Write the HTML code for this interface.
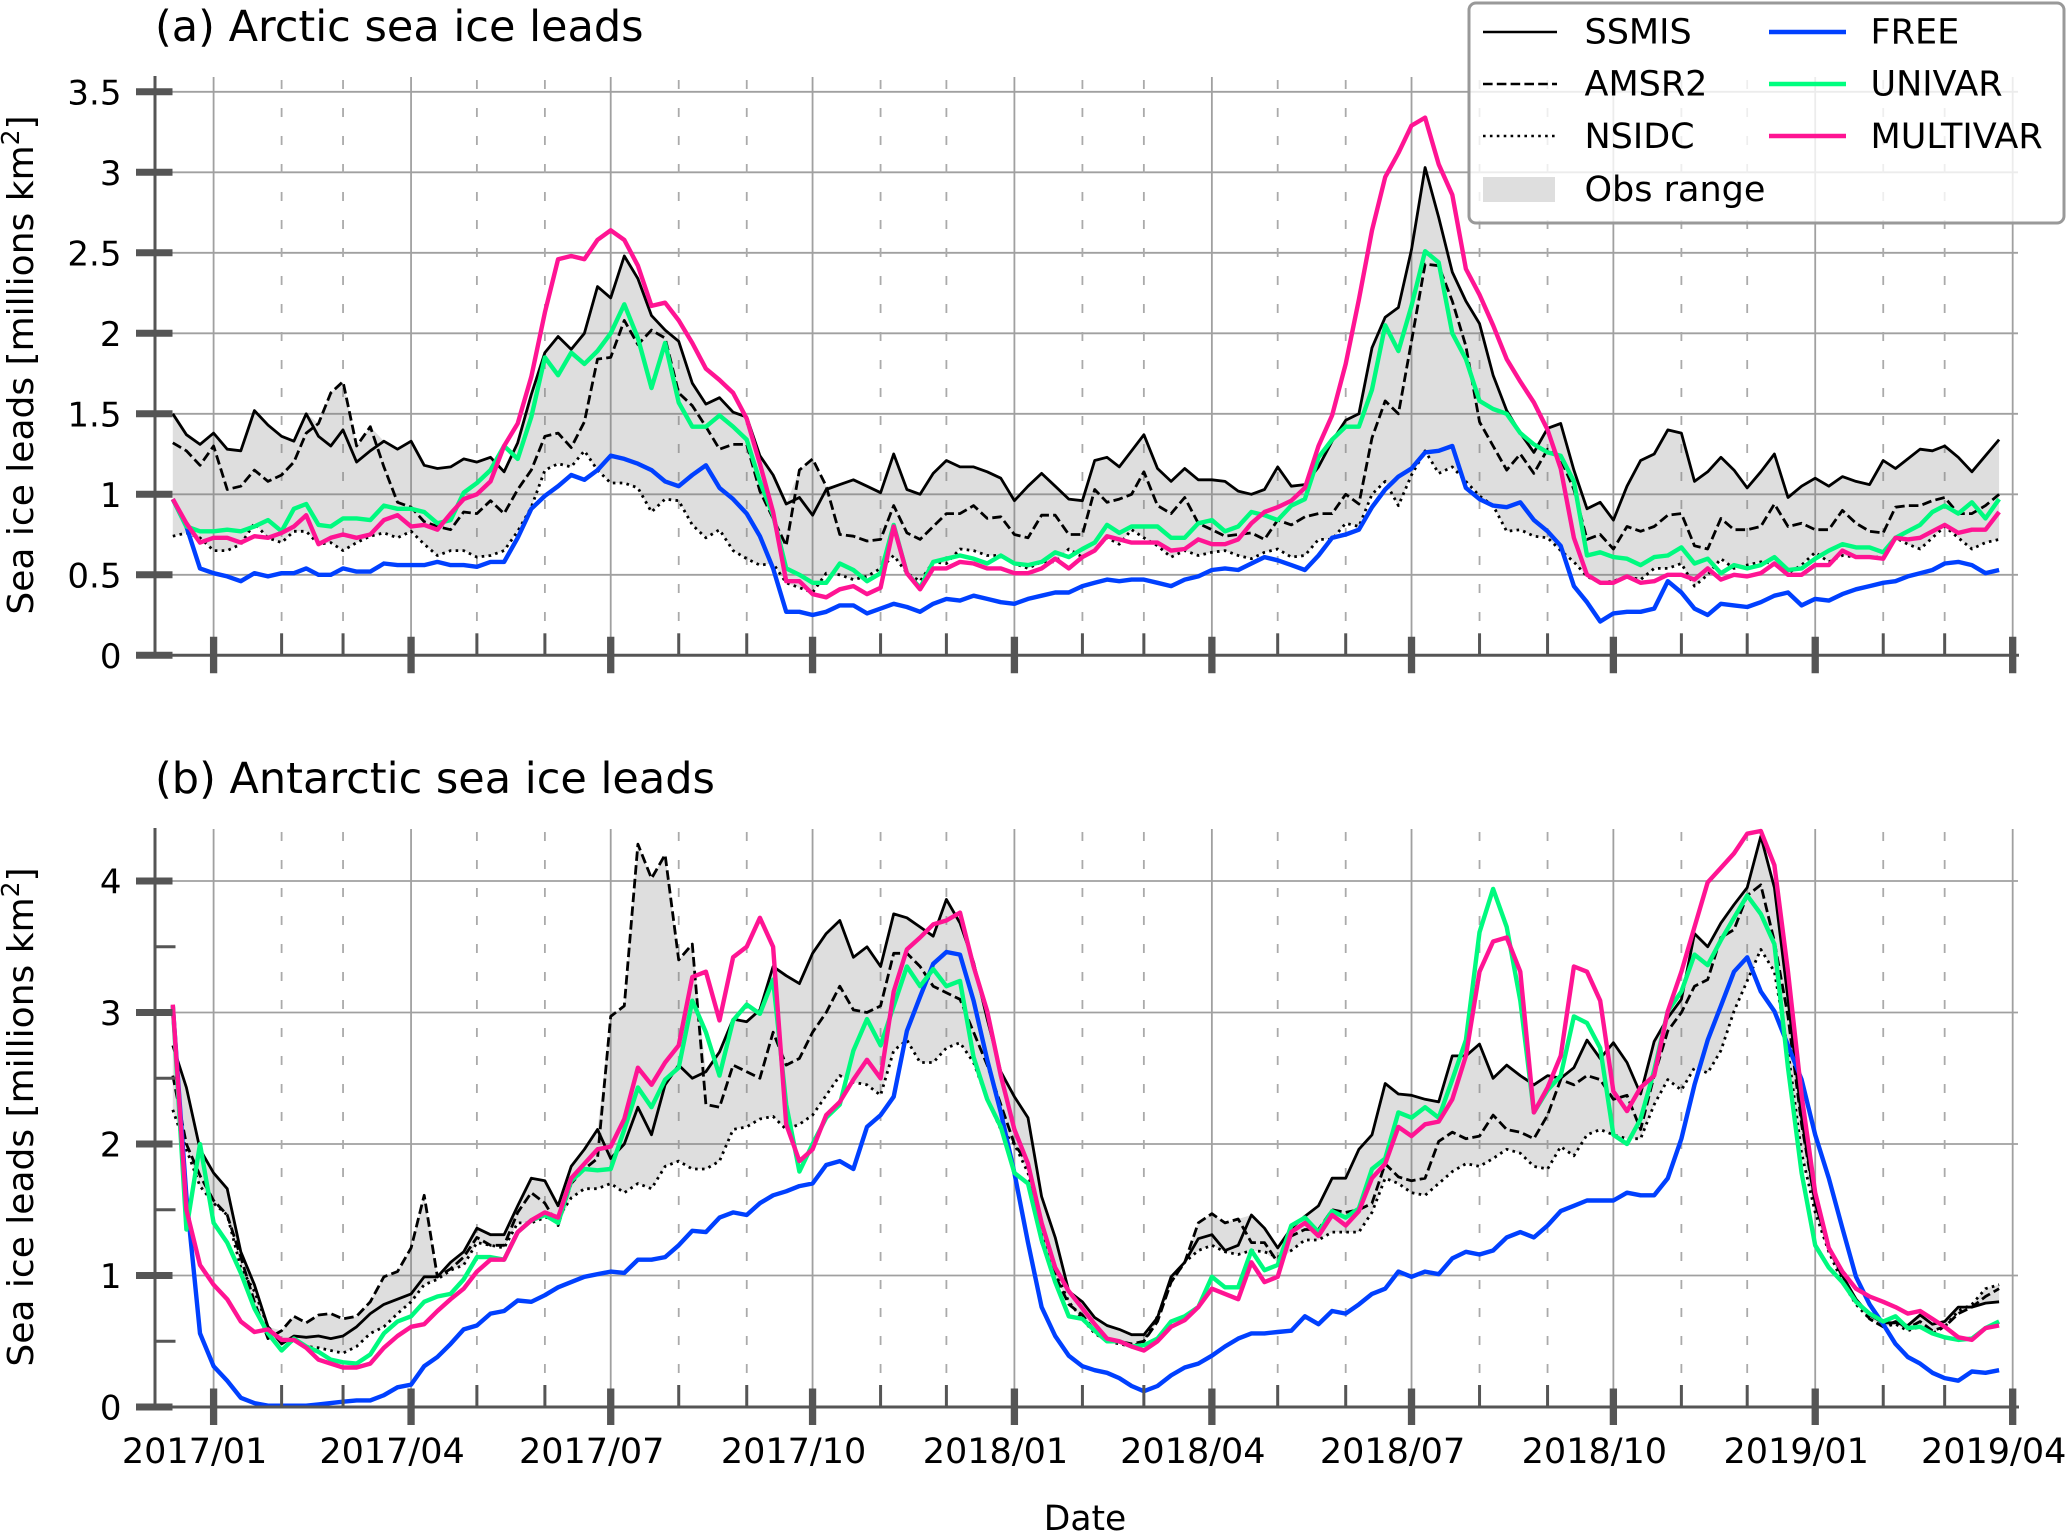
<!DOCTYPE html>
<html lang="en">
<head>
<meta charset="utf-8">
<title>Sea ice leads</title>
<style>
html,body{margin:0;padding:0;background:#fff;}
svg{display:block;font-family:"DejaVu Sans","Liberation Sans",sans-serif;fill:#000;}
</style>
</head>
<body>
<svg id="chart" xmlns="http://www.w3.org/2000/svg" width="2067" height="1532" viewBox="0 0 2067 1532">
  <rect x="0" y="0" width="2067" height="1532" fill="#fff"/>
  <g id="panel-a"></g>
  <g id="panel-b"></g>

  <text x="155" y="41" font-size="43">(a) Arctic sea ice leads</text>
  <text x="155" y="793" font-size="43">(b) Antarctic sea ice leads</text>

  <text transform="translate(33,365) rotate(-90)" text-anchor="middle" font-size="36">Sea ice leads [millions km<tspan dy="-14" font-size="25">2</tspan><tspan dy="14">]</tspan></text>
  <text transform="translate(33,1117) rotate(-90)" text-anchor="middle" font-size="36">Sea ice leads [millions km<tspan dy="-14" font-size="25">2</tspan><tspan dy="14">]</tspan></text>
  <text x="1085" y="1530" text-anchor="middle" font-size="34.5">Date</text>

  <g>
    <rect x="1469" y="3" width="595" height="220" rx="7" ry="7" fill="#fff" fill-opacity="0.8" stroke="#999" stroke-width="3"/>
    <line x1="1483" y1="32" x2="1557" y2="32" stroke="#000" stroke-width="2.6"/>
    <text x="1584.5" y="43.5" font-size="35">SSMIS</text>
    <line x1="1483" y1="84" x2="1557" y2="84" stroke="#000" stroke-width="2.6" stroke-dasharray="9.6 4.2"/>
    <text x="1584.5" y="95.5" font-size="35">AMSR2</text>
    <line x1="1483" y1="136" x2="1557" y2="136" stroke="#000" stroke-width="2.6" stroke-dasharray="2.6 4.3"/>
    <text x="1584.5" y="148" font-size="35">NSIDC</text>
    <rect x="1483" y="177" width="72" height="25" fill="#dedede"/>
    <text x="1584.5" y="201" font-size="35">Obs range</text>
    <line x1="1769" y1="32" x2="1846" y2="32" stroke="#0040ff" stroke-width="4.4"/>
    <text x="1870.5" y="43.5" font-size="35">FREE</text>
    <line x1="1769" y1="84" x2="1846" y2="84" stroke="#00ff7f" stroke-width="4.4"/>
    <text x="1870.5" y="95.5" font-size="35">UNIVAR</text>
    <line x1="1769" y1="136" x2="1846" y2="136" stroke="#ff1493" stroke-width="4.4"/>
    <text x="1870.5" y="148" font-size="35">MULTIVAR</text>
  </g>
</svg>

<script>
// ---- shared axis data: months counted from 2017/01 ----
const sampleMonths = Array.from({length: 138}, (_, i) => -0.6 + 0.2 * i);
const majorTickMonths = [0, 3, 6, 9, 12, 15, 18, 21, 24, 27];
const minorTickMonths = [1, 2, 4, 5, 7, 8, 10, 11, 13, 14, 16, 17, 19, 20, 22, 23, 25, 26];
const xTickLabels = ["2017/01", "2017/04", "2017/07", "2017/10", "2018/01", "2018/04", "2018/07", "2018/10", "2019/01", "2019/04"];
const arcticYTicks = [0, 0.5, 1, 1.5, 2, 2.5, 3, 3.5];
const arcticYLabels = ["0", "0.5", "1", "1.5", "2", "2.5", "3", "3.5"];
const antarcticYTicks = [0, 1, 2, 3, 4];
const antarcticYLabels = ["0", "1", "2", "3", "4"];
const antarcticYMinorTicks = [0.5, 1.5, 2.5, 3.5];

// ---- (a) Arctic series: 3 values for Dec 2016, then 5 per month ----
const arcticSsmis = [1.50,1.37,1.31,
1.38,1.28,1.27,1.52,1.43, 1.36,1.33,1.50,1.36,1.30, 1.40,1.20,1.27,1.33,1.28, 1.33,1.18,1.16,1.17,1.22,
1.20,1.23,1.14,1.32,1.62, 1.88,1.98,1.90,2.00,2.29, 2.22,2.48,2.34,2.11,2.02, 1.95,1.69,1.56,1.60,1.51,
1.48,1.24,1.12,.94,.98, .87,1.03,1.06,1.09,1.05, 1.01,1.25,1.03,1.00,1.13, 1.21,1.17,1.17,1.14,1.10,
.96,1.05,1.13,1.05,.97, .96,1.21,1.23,1.17,1.27, 1.37,1.16,1.08,1.16,1.09, 1.09,1.08,1.02,1.00,1.03,
1.17,1.05,1.06,1.17,1.33, 1.46,1.50,1.91,2.10,2.16, 2.52,3.03,2.72,2.38,2.20, 2.06,1.74,1.52,1.38,1.26,
1.41,1.44,1.15,.91,.95, .84,1.05,1.21,1.25,1.40, 1.38,1.08,1.14,1.23,1.15, 1.04,1.14,1.25,.98,1.05,
1.10,1.05,1.11,1.08,1.06, 1.21,1.16,1.22,1.28,1.27, 1.30,1.23,1.14,1.24,1.34];
const arcticAmsr2 = [1.32,1.27,1.18,
1.30,1.03,1.05,1.15,1.08, 1.12,1.20,1.38,1.44,1.63, 1.70,1.30,1.42,1.17,.95, .92,.83,.80,.78,.89,
.88,.96,.88,1.03,1.15, 1.36,1.38,1.29,1.45,1.84, 1.85,2.08,1.93,2.02,1.97, 1.63,1.55,1.42,1.28,1.31,
1.31,1.02,.85,.68,1.15, 1.22,1.05,.75,.74,.71, .72,.93,.76,.72,.80, .88,.88,.93,.85,.86,
.75,.73,.87,.87,.75, .75,1.03,.95,.97,1.00, 1.14,.93,.88,.98,.82, .78,.74,.75,.76,.72,
.84,.81,.86,.88,.88, 1.00,.94,1.35,1.58,1.50, 1.95,2.43,2.42,2.20,1.92, 1.45,1.30,1.15,1.25,1.13,
1.28,1.22,1.03,.72,.75, .66,.80,.77,.80,.87, .88,.68,.66,.85,.78, .78,.80,.94,.80,.82,
.78,.78,.90,.82,.77, .76,.92,.93,.93,.96, .98,.88,.88,.93,1.00];
const arcticNsidc = [.74,.76,.73,
.65,.65,.69,.82,.73, .70,.77,.77,.69,.70, .65,.70,.74,.76,.73, .77,.69,.62,.65,.65,
.61,.62,.65,.77,.92, 1.15,1.19,1.17,1.27,1.15, 1.07,1.07,1.04,.89,.97, .96,.81,.73,.78,.65,
.60,.56,.57,.45,.42, .39,.51,.50,.47,.49, .54,.62,.51,.46,.58, .57,.66,.65,.62,.62,
.57,.54,.58,.58,.66, .61,.65,.73,.69,.78, .73,.68,.61,.65,.62, .64,.65,.62,.60,.64,
.66,.61,.62,.72,.72, .82,.80,1.00,1.08,.93, 1.12,1.27,1.13,1.17,1.08, .99,.93,.77,.78,.74,
.73,.65,.58,.49,.45, .46,.49,.47,.54,.54, .57,.43,.50,.60,.54, .56,.58,.57,.51,.56,
.64,.58,.62,.61,.61, .61,.73,.69,.66,.73, .80,.73,.66,.70,.72];
const arcticFree = [.97,.80,.54,
.51,.49,.46,.51,.49, .51,.51,.54,.50,.50, .54,.52,.52,.57,.56, .56,.56,.58,.56,.56,
.55,.58,.58,.73,.91, .99,1.05,1.12,1.09,1.15, 1.24,1.22,1.19,1.15,1.08, 1.05,1.12,1.18,1.04,.97,
.88,.74,.54,.27,.27, .25,.27,.31,.31,.26, .29,.32,.30,.27,.32, .35,.34,.37,.35,.33,
.32,.35,.37,.39,.39, .43,.45,.47,.46,.47, .47,.45,.43,.47,.49, .53,.54,.53,.57,.61,
.59,.56,.53,.62,.73, .75,.78,.92,1.03,1.11, 1.16,1.26,1.27,1.30,1.04, .97,.93,.92,.95,.84,
.77,.68,.43,.33,.21, .26,.27,.27,.29,.46, .39,.29,.25,.32,.31, .30,.33,.37,.39,.31,
.35,.34,.38,.41,.43, .45,.46,.49,.51,.53, .57,.58,.56,.51,.53];
const arcticUnivar = [.97,.80,.77,
.77,.78,.77,.80,.84, .77,.91,.94,.81,.80, .85,.85,.84,.93,.91, .91,.89,.82,.84,1.01,
1.07,1.15,1.30,1.22,1.48, 1.85,1.74,1.88,1.81,1.89, 2.00,2.18,1.97,1.66,1.94, 1.57,1.42,1.42,1.49,1.42,
1.34,1.08,.87,.54,.50, .45,.45,.57,.53,.46, .51,.81,.51,.42,.58, .60,.62,.60,.57,.62,
.57,.56,.58,.64,.61, .66,.70,.81,.76,.80, .80,.80,.73,.73,.82, .84,.77,.80,.89,.87,
.84,.93,.97,1.23,1.34, 1.42,1.42,1.65,2.05,1.89, 2.17,2.51,2.44,2.00,1.84, 1.58,1.53,1.50,1.38,1.31,
1.26,1.24,1.08,.62,.64, .61,.60,.56,.61,.62, .67,.57,.60,.51,.56, .54,.56,.61,.53,.54,
.60,.65,.69,.67,.67, .64,.73,.77,.81,.89, .93,.88,.95,.85,.97];
const arcticMultivar = [.97,.82,.70,
.73,.73,.70,.74,.73, .76,.80,.87,.69,.73, .75,.73,.75,.84,.87, .80,.81,.78,.88,.97,
1.00,1.08,1.30,1.44,1.73, 2.13,2.46,2.48,2.46,2.58, 2.64,2.58,2.42,2.17,2.19, 2.08,1.94,1.78,1.71,1.63,
1.47,1.19,.89,.46,.46, .38,.36,.41,.43,.38, .42,.80,.51,.41,.54, .54,.58,.57,.54,.54,
.51,.51,.54,.60,.54, .61,.65,.74,.72,.70, .70,.70,.65,.66,.72, .69,.69,.72,.82,.89,
.92,.96,1.04,1.30,1.49, 1.81,2.21,2.64,2.97,3.12, 3.29,3.34,3.05,2.86,2.40, 2.24,2.05,1.84,1.70,1.57,
1.40,1.16,.73,.50,.45, .45,.49,.45,.46,.50, .50,.47,.54,.47,.50, .49,.51,.57,.50,.50,
.56,.56,.65,.61,.61, .60,.73,.72,.73,.77, .81,.76,.78,.78,.89];

// ---- (b) Antarctic series ----
const antarcticSsmis = [2.75,2.43,1.96,
1.78,1.66,1.18,.93,.61, .48,.54,.53,.54,.52, .54,.61,.71,.78,.82, .86,.99,.99,1.10,1.18,
1.36,1.31,1.31,1.53,1.74, 1.72,1.53,1.83,1.96,2.11, 1.89,2.00,2.28,2.07,2.45, 2.60,2.50,2.55,2.70,2.95,
2.93,3.02,3.35,3.28,3.22, 3.45,3.60,3.70,3.42,3.50, 3.35,3.75,3.72,3.65,3.58, 3.86,3.68,3.38,2.95,2.55,
2.36,2.20,1.60,1.29,.88, .80,.68,.62,.59,.55, .55,.68,.99,1.10,1.28, 1.31,1.19,1.23,1.46,1.36,
1.21,1.36,1.45,1.53,1.74, 1.74,1.96,2.07,2.46,2.38, 2.37,2.34,2.32,2.67,2.67, 2.76,2.50,2.60,2.52,2.45,
2.52,2.50,2.58,2.79,2.65, 2.77,2.62,2.38,2.78,2.96, 3.10,3.60,3.50,3.68,3.82, 3.95,4.34,3.95,3.10,2.20,
1.55,1.22,1.00,.82,.70, .64,.64,.62,.70,.63, .65,.76,.76,.79,.80];
const antarcticAmsr2 = [2.52,2.00,1.76,
1.57,1.46,1.14,.80,.52, .58,.69,.64,.70,.71, .67,.69,.80,.99,1.03, 1.21,1.61,.99,1.05,1.14,
1.29,1.23,1.23,1.48,1.63, 1.55,1.38,1.70,1.81,1.89, 2.97,3.05,4.28,4.02,4.20, 3.40,3.52,2.30,2.28,2.60,
2.55,2.50,2.85,2.60,2.65, 2.85,3.00,3.20,3.02,3.00, 3.05,3.45,3.45,3.35,3.20, 3.15,3.10,2.85,2.60,2.30,
2.00,1.85,1.25,1.00,.78, .70,.58,.52,.50,.48, .50,.65,.95,1.10,1.40, 1.47,1.40,1.43,1.25,1.25,
1.10,1.30,1.35,1.35,1.50, 1.48,1.50,1.55,1.85,1.75, 1.72,1.74,2.02,2.09,2.04, 2.06,2.22,2.11,2.09,2.04,
2.22,2.49,2.45,2.52,2.49, 2.34,2.37,2.11,2.52,2.86, 3.00,3.20,3.25,3.57,3.63, 3.89,3.97,3.54,2.97,2.15,
1.55,1.21,.99,.82,.67, .61,.65,.60,.65,.58, .61,.71,.76,.84,.90];
const antarcticNsidc = [2.26,1.96,1.68,
1.55,1.46,1.06,.88,.61, .50,.50,.46,.45,.43, .41,.46,.56,.61,.71, .80,.93,.97,1.04,1.08,
1.25,1.23,1.21,1.40,1.40, 1.44,1.44,1.59,1.66,1.66, 1.70,1.63,1.70,1.66,1.83, 1.87,1.81,1.81,1.87,2.11,
2.13,2.19,2.21,2.11,2.15, 2.22,2.37,2.52,2.47,2.45, 2.37,2.71,2.79,2.62,2.62, 2.73,2.77,2.62,2.34,2.11,
2.00,1.78,1.33,1.03,.80, .67,.56,.50,.48,.46, .50,.69,.95,1.10,1.19, 1.23,1.18,1.16,1.19,1.18,
1.14,1.19,1.27,1.27,1.33, 1.33,1.33,1.48,1.74,1.70, 1.63,1.61,1.70,1.79,1.85, 1.83,1.89,1.96,1.93,1.83,
1.81,1.98,1.91,2.07,2.11, 2.07,2.04,2.04,2.30,2.49, 2.41,2.58,2.54,2.71,3.01, 3.24,3.48,3.31,2.71,1.93,
1.48,1.18,.95,.78,.67, .61,.63,.58,.61,.56, .61,.73,.78,.90,.93];
const antarcticFree = [3.05,1.60,.56,
.31,.20,.07,.03,.01, .01,.01,.01,.02,.03, .04,.05,.05,.09,.15, .17,.31,.38,.48,.59,
.62,.71,.73,.81,.80, .85,.91,.95,.99,1.01, 1.03,1.02,1.12,1.12,1.14, 1.23,1.34,1.33,1.44,1.48,
1.46,1.55,1.61,1.64,1.68, 1.70,1.84,1.87,1.81,2.13, 2.22,2.36,2.86,3.12,3.37, 3.46,3.44,3.09,2.64,2.24,
1.78,1.25,.76,.54,.39, .31,.28,.26,.22,.16, .12,.16,.24,.30,.33, .39,.46,.52,.56,.56,
.57,.58,.69,.63,.73, .71,.78,.86,.90,1.03, .99,1.03,1.01,1.13,1.18, 1.16,1.19,1.29,1.33,1.29,
1.38,1.49,1.53,1.57,1.57, 1.57,1.63,1.61,1.61,1.74, 2.04,2.45,2.79,3.05,3.31, 3.42,3.16,3.01,2.75,2.49,
2.07,1.74,1.36,.99,.78, .63,.48,.38,.33,.26, .22,.20,.27,.26,.28];
const antarcticUnivar = [3.05,1.35,2.00,
1.40,1.25,1.02,.75,.56, .43,.52,.46,.42,.36, .34,.33,.40,.56,.65, .69,.80,.84,.86,.97,
1.14,1.14,1.12,1.33,1.42, 1.46,1.40,1.72,1.81,1.80, 1.81,2.11,2.43,2.28,2.49, 2.58,3.09,2.85,2.52,2.94,
3.06,2.99,3.25,2.30,1.79, 2.00,2.20,2.30,2.71,2.95, 2.75,3.05,3.35,3.20,3.33, 3.20,3.24,2.66,2.34,2.13,
1.78,1.70,1.27,.95,.69, .67,.58,.50,.50,.46, .47,.52,.65,.69,.76, .99,.91,.91,1.19,1.04,
1.08,1.38,1.44,1.33,1.49, 1.44,1.51,1.81,1.89,2.24, 2.20,2.28,2.20,2.49,2.79, 3.61,3.94,3.65,3.09,2.24,
2.41,2.52,2.97,2.92,2.73, 2.07,2.00,2.19,2.56,3.01, 3.16,3.44,3.36,3.55,3.72, 3.89,3.75,3.52,2.58,1.78,
1.23,1.06,.95,.80,.71, .65,.69,.60,.61,.56, .53,.51,.52,.60,.65];
const antarcticMultivar = [3.06,1.50,1.08,
.93,.82,.65,.57,.59, .51,.51,.45,.36,.33, .30,.30,.33,.45,.54, .61,.63,.73,.82,.90,
1.03,1.12,1.12,1.33,1.42, 1.48,1.44,1.74,1.85,1.96, 1.98,2.19,2.58,2.45,2.62, 2.75,3.27,3.31,2.94,3.42,
3.50,3.72,3.50,2.15,1.87, 1.96,2.22,2.32,2.49,2.64, 2.50,3.16,3.48,3.57,3.67, 3.70,3.76,3.35,3.01,2.52,
2.11,1.85,1.40,1.06,.88, .75,.63,.52,.50,.46, .43,.50,.61,.66,.76, .90,.86,.82,1.10,.95,
.99,1.33,1.40,1.30,1.46, 1.38,1.49,1.74,1.85,2.13, 2.06,2.15,2.17,2.34,2.67, 3.31,3.54,3.57,3.31,2.24,
2.43,2.67,3.35,3.31,3.09, 2.40,2.25,2.43,2.52,3.01, 3.31,3.65,3.99,4.10,4.21, 4.36,4.38,4.12,3.31,2.37,
1.63,1.21,1.03,.90,.84, .80,.76,.71,.73,.67, .61,.53,.51,.60,.62];

// ---- axis functions ----
const SVG_NS = "http://www.w3.org/2000/svg";
const INK = "#555";
function monthToDay(m) {
  const whole = Math.floor(m);
  const start = Date.UTC(2017, whole, 1);
  const next = Date.UTC(2017, whole + 1, 1);
  const d0 = Date.UTC(2017, 0, 1);
  return (start + (m - whole) * (next - start) - d0) / 86400000;
}
function xScale(m) { return 213.6 + 2.194 * monthToDay(m); }
function makeYScale(zero, unit) { return v => zero - unit * v; }
function make(tag, attrs, parent, text) {
  const el = document.createElementNS(SVG_NS, tag);
  Object.keys(attrs).forEach(k => el.setAttribute(k, attrs[k]));
  if (text !== undefined) el.textContent = text;
  parent.appendChild(el);
  return el;
}
function pathFrom(months, values, yScale) {
  return values.map((v, i) => (i ? "L" : "M") + xScale(months[i]).toFixed(1) + " " + yScale(v).toFixed(1)).join("");
}

function drawPanel(prefix, group, opt) {
  const y = opt.y;
  const zero = y(0);
  const right = 2018;

  // gridlines
  opt.yTicks.forEach(v => {
    const el = make("line", {x1: 172, x2: right, y1: y(v), y2: y(v), stroke: "#a0a0a0", "stroke-width": 1.8}, group);
    
    
  });
  majorTickMonths.forEach(m => {
    const el = make("line", {x1: xScale(m), x2: xScale(m), y1: opt.top, y2: zero, stroke: "#a0a0a0", "stroke-width": 1.8}, group);
    
    
  });
  minorTickMonths.forEach(m => {
    const el = make("line", {x1: xScale(m), x2: xScale(m), y1: opt.top + 3, y2: zero, stroke: "#aaa", "stroke-width": 1.8, "stroke-dasharray": "9 19"}, group);
    
    
  });

  // observation range
  const obs = [opt.ssmis, opt.amsr2, opt.nsidc];
  const upper = sampleMonths.map((_, i) => Math.max(...obs.map(s => s[i])));
  const lower = sampleMonths.map((_, i) => Math.min(...obs.map(s => s[i])));
  const upperPath = pathFrom(sampleMonths, upper, y);
  const lowerPts = lower.map((v, i) => "L" + xScale(sampleMonths[i]).toFixed(1) + " " + y(v).toFixed(1)).reverse().join("");
  const band = make("path", {d: upperPath + lowerPts + "Z", fill: "#808080", "fill-opacity": 0.26, stroke: "none"}, group);
  
  

  // series
  const styles = [
    ["ssmis", opt.ssmis, "#000", 2.8, "none"],
    ["amsr2", opt.amsr2, "#000", 2.8, "9.6 4.2"],
    ["nsidc", opt.nsidc, "#000", 2.8, "2.6 4.3"],
    ["free", opt.free, "#0040ff", 4.4, "none"],
    ["univar", opt.univar, "#00fa7f", 4.4, "none"],
    ["multivar", opt.multivar, "#ff1493", 4.4, "none"]
  ];
  styles.forEach(s => {
    const el = make("path", {d: pathFrom(sampleMonths, s[1], y), fill: "none", stroke: s[2], "stroke-width": s[3], "stroke-dasharray": s[4], "stroke-linejoin": "round"}, group);
    
    
  });

  // spines
  const spineY = make("line", {x1: 155, x2: 155, y1: opt.top - 1, y2: zero, stroke: INK, "stroke-width": 3}, group);
  
  
  const spineX = make("line", {x1: 155, x2: 2019, y1: zero, y2: zero, stroke: INK, "stroke-width": 3}, group);
  
  

  // y ticks and labels
  opt.yTicks.forEach((v, i) => {
    const tick = make("line", {x1: 136, x2: 172.5, y1: y(v), y2: y(v), stroke: INK, "stroke-width": 7}, group);
    
    
    const label = make("text", {x: 121.5, y: y(v) + 12.5, "text-anchor": "end", "font-size": 34}, group, opt.yLabels[i]);
    
    
  });
  opt.yMinor.forEach(v => {
    const tick = make("line", {x1: 155, x2: 175.5, y1: y(v), y2: y(v), stroke: INK, "stroke-width": 3}, group);
    
    
  });

  // x ticks and labels
  majorTickMonths.forEach((m, i) => {
    const tick = make("line", {x1: xScale(m), x2: xScale(m), y1: zero - 18.5, y2: zero + 18, stroke: INK, "stroke-width": 7.3}, group);
    
    
    if (opt.showXLabels) {
      const label = make("text", {x: xScale(m) - 19, y: zero + 56, "text-anchor": "middle", "font-size": 35}, group, xTickLabels[i]);
      
      
    }
  });
  minorTickMonths.forEach(m => {
    const tick = make("line", {x1: xScale(m), x2: xScale(m), y1: zero - 22, y2: zero, stroke: INK, "stroke-width": 3}, group);
    
    
  });
}

drawPanel("arctic", document.getElementById("panel-a"), {
  y: makeYScale(655.3, 161), top: 77,
  yTicks: arcticYTicks, yLabels: arcticYLabels, yMinor: [], showXLabels: false,
  ssmis: arcticSsmis, amsr2: arcticAmsr2, nsidc: arcticNsidc,
  free: arcticFree, univar: arcticUnivar, multivar: arcticMultivar
});
drawPanel("antarctic", document.getElementById("panel-b"), {
  y: makeYScale(1407, 131.5), top: 829,
  yTicks: antarcticYTicks, yLabels: antarcticYLabels, yMinor: antarcticYMinorTicks, showXLabels: true,
  ssmis: antarcticSsmis, amsr2: antarcticAmsr2, nsidc: antarcticNsidc,
  free: antarcticFree, univar: antarcticUnivar, multivar: antarcticMultivar
});
</script>
</body>
</html>
